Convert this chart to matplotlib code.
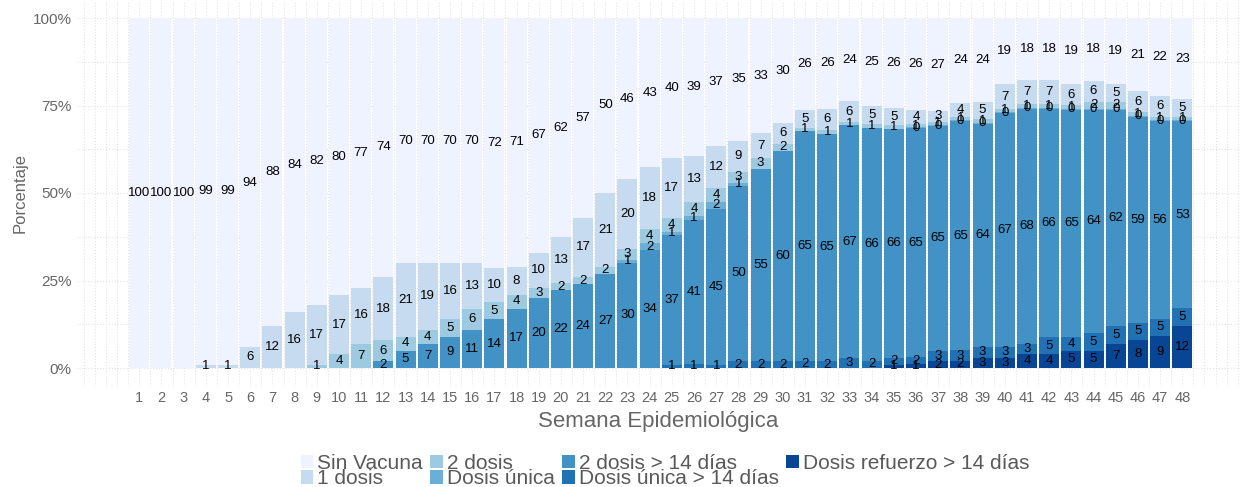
import matplotlib.pyplot as plt
import numpy as np

plt.rcParams['font.family'] = ['Liberation Sans', 'DejaVu Sans']

N = None
semanas = list(range(1, 49))

sin_vacuna = [100, 100, 100, 99, 99, 94, 88, 84, 82, 80,
              77, 74, 70, 70, 70, 70, 72, 71, 67, 62,
              57, 50, 46, 43, 40, 39, 37, 35, 33, 30,
              26, 26, 24, 25, 26, 26, 27, 24, 24, 19,
              18, 18, 19, 18, 19, 21, 22, 23]
una_dosis = [N, N, N, 1, 1, 6, 12, 16, 17, 17,
             16, 18, 21, 19, 16, 13, 10, 8, 10, 13,
             17, 21, 20, 18, 17, 13, 12, 9, 7, 6,
             5, 6, 6, 5, 5, 4, 3, 4, 5, 7,
             7, 7, 6, 6, 5, 6, 6, 5]
dos_dosis = [N, N, N, N, N, N, N, N, 1, 4,
             7, 6, 4, 4, 5, 6, 5, 4, 3, 2,
             2, 2, 3, 4, 4, 4, 4, 3, 3, 2,
             1, 1, 1, 1, 1, 1, 1, 1, 1, 1,
             1, 1, 1, 2, 2, 1, 1, 1]
dosis_unica = [N] * 22 + [1, 2, 1, 1, 2, 1] + [N] * 7 + [0.3] * 13
dos_dosis_14 = [N] * 11 + [2, 5, 7, 9, 11, 14, 17, 20, 22,
                           24, 27, 30, 34, 37, 41, 45, 50, 55, 60,
                           65, 65, 67, 66, 66, 65, 65, 65, 64, 67,
                           68, 66, 65, 64, 62, 59, 56, 53]
unica_14 = [N] * 24 + [1, 1, 1, 2, 2, 2, 2, 2, 3, 2, 2, 2, 3, 3, 3, 3,
                       3, 5, 4, 5, 5, 5, 5, 5]
refuerzo_14 = [N] * 34 + [1, 1, 2, 2, 3, 3, 4, 4, 5, 5, 7, 8, 9, 12]

# orden de apilado: de abajo hacia arriba
series = [
    ("Dosis refuerzo > 14 días", refuerzo_14, "#084594"),
    ("Dosis única > 14 días", unica_14, "#2171B5"),
    ("2 dosis > 14 días", dos_dosis_14, "#4292C6"),
    ("Dosis única", dosis_unica, "#6BAED6"),
    ("2 dosis", dos_dosis, "#9ECAE1"),
    ("1 dosis", una_dosis, "#C6DBEF"),
    ("Sin Vacuna", sin_vacuna, "#EFF3FF"),
]

vals = np.array([[np.nan if v is None else v for v in s[1]] for s in series], dtype=float)
total = np.nansum(vals, axis=0)
pct = vals / total * 100

fig = plt.figure(figsize=(12.44, 4.87), dpi=100)
ax = fig.add_axes([76 / 1244, 1 - 385.5 / 487, (1240 - 76) / 1244, 385 / 487])

x = np.array(semanas)
bottom = np.zeros(len(semanas))
handles = {}
for (name, raw, color), p, v in zip(series, pct, vals):
    h = np.nan_to_num(p)
    b = ax.bar(x, h, bottom=bottom, width=0.9, color=color, linewidth=0, label=name)
    handles[name] = b
    for i in range(len(x)):
        if not np.isnan(v[i]):
            ax.text(x[i], bottom[i] + h[i] / 2, "%d" % round(v[i]),
                    ha="center", va="center", fontsize=9.5, color="black")
    bottom = bottom + h

ax.set_xlim(-1.85, 50.6)
ax.set_ylim(-5, 105)
ticks = list(range(-1, 51))
ax.set_xticks(ticks)
ax.set_xticklabels([str(t) if 1 <= t <= 48 else "" for t in ticks])
ax.set_xticks(np.arange(-1.5, 51, 1), minor=True)
ax.set_yticks([0, 25, 50, 75, 100])
ax.set_yticklabels(["0%", "25%", "50%", "75%", "100%"])
ax.set_yticks([12.5, 37.5, 62.5, 87.5], minor=True)
ax.grid(which="both", linestyle=":", color="#E3E3E3", linewidth=0.8)
ax.set_axisbelow(True)
ax.tick_params(which="both", length=0)
ax.tick_params(axis="x", labelsize=10.5, labelcolor="#666666", pad=4)
ax.tick_params(axis="y", labelsize=11, labelcolor="#666666", pad=3)
for s in ax.spines.values():
    s.set_visible(False)

ax.set_xlabel("Semana Epidemiológica", fontsize=16, color="#666666", labelpad=4)
ax.set_ylabel("Porcentaje", fontsize=12, color="#666666", labelpad=4)

orden = ["Sin Vacuna", "1 dosis", "2 dosis", "Dosis única",
         "2 dosis > 14 días", "Dosis única > 14 días", "Dosis refuerzo > 14 días"]
leg = fig.legend([handles[n] for n in orden], orden, loc="center",
                 bbox_to_anchor=(665 / 1244, 1 - 471 / 487), ncol=4, frameon=False,
                 fontsize=15, handlelength=0.6, handleheight=0.6, handletextpad=0.2,
                 columnspacing=0.35, labelspacing=-0.17, borderpad=0)
for t in leg.get_texts():
    t.set_color("#595959")

fig.savefig("out.png", dpi=100)
